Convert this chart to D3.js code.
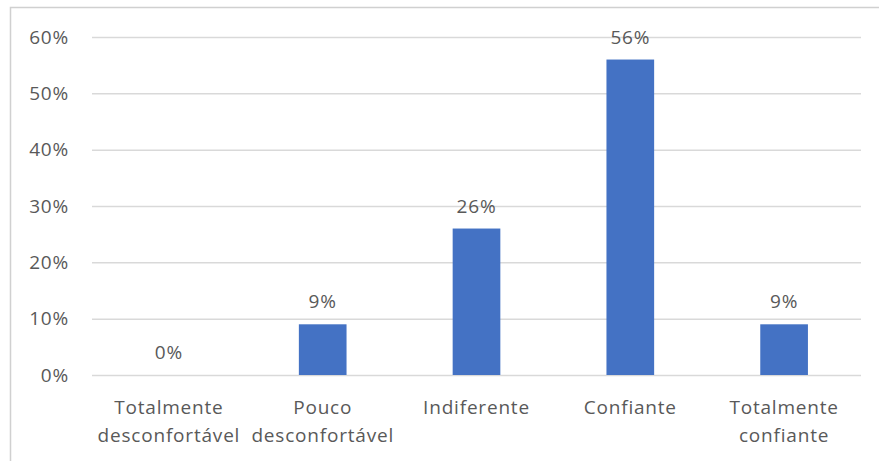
<!DOCTYPE html>
<html>
<head>
<meta charset="utf-8">
<script src="https://cdn.jsdelivr.net/npm/d3@7"></script>
<style>
  html, body { margin: 0; padding: 0; background: #fff; }
  svg { display: block; }
  text { font-family: "Open Sans", "Liberation Sans", sans-serif; fill: #595959; letter-spacing: 0.8px; }
</style>
</head>
<body>
<svg id="chart" width="879" height="461"></svg>
<script>
// Survey answers and their shares
const categories = [
  ["Totalmente", "desconfortável"],
  ["Pouco", "desconfortável"],
  ["Indiferente"],
  ["Confiante"],
  ["Totalmente", "confiante"]
];
const values = [0, 0.09, 0.26, 0.56, 0.09];
const valueLabels = ["0%", "9%", "26%", "56%", "9%"];
const yTicks = [0, 0.1, 0.2, 0.3, 0.4, 0.5, 0.6];

const svg = d3.select("#chart");
const W = 879, H = 461;
const plot = { left: 92, right: 861, top: 37, bottom: 375 };
const FS = 19;

// outer frame
svg.append("rect")
  .attr("x", 10.5).attr("y", 7.5)
  .attr("width", W).attr("height", H)
  .attr("fill", "none").attr("stroke", "#d0d0d0").attr("stroke-width", 1.5);

const x = d3.scaleBand()
  .domain(d3.range(categories.length))
  .range([plot.left, plot.right])
  .paddingInner(0.69).paddingOuter(0.345);

const y = d3.scaleLinear().domain([0, 0.6]).range([plot.bottom, plot.top]);

// gridlines + y labels
const yAxis = d3.axisLeft(y)
  .tickValues(yTicks)
  .tickFormat(d3.format(".0%"))
  .tickSize(-(plot.right - plot.left))
  .tickPadding(23);

const gy = svg.append("g")
  .attr("transform", `translate(${plot.left},0)`)
  .call(yAxis);
gy.select(".domain").remove();
gy.selectAll(".tick line").attr("stroke", "#d9d9d9").attr("stroke-width", 1.5);
gy.selectAll(".tick text")
  .attr("font-size", FS)
  .attr("fill", "#595959")
  .style("font-family", "'Open Sans', 'Liberation Sans', sans-serif");

// bars
svg.append("g").selectAll("rect")
  .data(values)
  .join("rect")
  .attr("x", (d, i) => x(i))
  .attr("width", x.bandwidth())
  .attr("y", d => y(d))
  .attr("height", d => y(0) - y(d))
  .attr("fill", "#4472c4");

// value labels
svg.append("g").selectAll("text")
  .data(values)
  .join("text")
  .attr("x", (d, i) => x(i) + x.bandwidth() / 2)
  .attr("y", d => y(d) - 16)
  .attr("text-anchor", "middle")
  .attr("font-size", FS)
  .text((d, i) => valueLabels[i]);

// category labels
const cat = svg.append("g").selectAll("text")
  .data(categories)
  .join("text")
  .attr("x", (d, i) => x(i) + x.bandwidth() / 2)
  .attr("y", 414)
  .attr("text-anchor", "middle")
  .attr("font-size", FS);
cat.selectAll("tspan")
  .data(d => d)
  .join("tspan")
  .attr("x", function () { return d3.select(this.parentNode).attr("x"); })
  .attr("dy", (d, i) => i === 0 ? 0 : 28)
  .text(d => d);
</script>
</body>
</html>
